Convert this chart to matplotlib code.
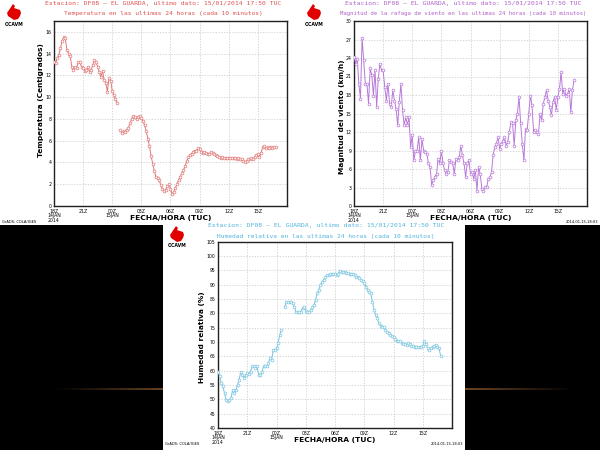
import numpy as np
import matplotlib
matplotlib.use('Agg')
import matplotlib.pyplot as plt
from matplotlib.patches import Rectangle, Polygon
from matplotlib.collections import LineCollection

nan = np.nan

# x axis: hours after 18Z 14 Jan 2014, one value every 10 minutes
hour_ticks = [0, 3, 6, 9, 12, 15, 18, 21]
hour_labels = ['18Z\n14JAN\n2014', '21Z', '00Z\n15JAN', '03Z', '06Z', '09Z', '12Z', '15Z']

temp = [13.2, 13.1, 13.6, 13.9, 14.5, 15.2, 15.5, 15.4, 14.3, 14.0,
        13.8, 12.8, 12.5, 12.8, 12.7, 13.2, 13.2, 12.8, 12.7, 12.4,
        12.5, 12.8, 12.3, 12.5, 13.0, 13.4, 13.2, 12.8, 12.3, 11.9,
        12.4, 11.6, 11.3, 10.5, 11.8, 11.5, 10.6, 10.2, 9.8, 9.5,
        nan, 7.0, 6.7, 6.9, 6.8, 7.0, 7.2, 7.6, 8.0, 8.3,
        8.2, 8.0, 8.2, 8.3, 8.1, 7.8, 7.4, 6.9, 6.2, 5.5,
        4.6, 3.9, 3.2, 2.7, 2.6, 2.4, 1.9, 1.6, 1.4, 1.5,
        1.8, 2.0, 1.6, 1.1, 1.3, 1.7, 2.0, 2.4, 2.7, 3.0,
        3.3, 3.7, 4.1, 4.5, 4.7, 4.8, 5.0, 5.1, 5.1, 5.3,
        5.2, 5.0, 4.9, 5.0, 4.9, 4.8, 4.8, 5.0, 4.9, 4.8,
        4.7, 4.6, 4.5, 4.4, 4.5, 4.4, 4.4, 4.4, 4.4, 4.4,
        4.4, 4.4, 4.4, 4.3, 4.4, 4.3, 4.3, 4.1, 4.0, 4.1,
        4.3, 4.3, 4.4, 4.3, 4.5, 4.7, 4.8, 4.5, 4.9, 5.4,
        5.5, 5.3, 5.4, 5.3, 5.4, 5.3, 5.4, 5.4]

wind = [24.2, 23.1, 23.9, 19.8, 17.4, 27.3, 23.6, 19.8, 19.8, 16.6,
        22.3, 21.2, 17.9, 22.0, 16.1, 20.6, 23.1, 22.0, 22.0, 19.3,
        17.1, 19.8, 16.6, 16.1, 18.8, 17.1, 15.8, 13.1, 16.9, 19.8,
        15.5, 13.1, 14.4, 13.1, 14.4, 9.6, 11.5, 7.4, 9.0, 9.0,
        11.2, 7.4, 10.9, 9.0, 8.8, 8.5, 6.9, 6.3, 3.4, 4.2,
        4.7, 5.2, 7.7, 6.9, 9.0, 6.9, 5.8, 5.2, 5.5, 7.4,
        7.1, 6.9, 5.2, 7.7, 7.4, 7.9, 9.8, 8.2, 6.9, 4.7,
        6.9, 7.4, 5.2, 5.5, 4.4, 5.8, 2.5, 6.3, 5.2, 2.8,
        2.5, 3.1, 3.1, 4.4, 4.7, 5.5, 8.2, 9.6, 10.1, 11.2,
        9.3, 10.1, 10.6, 11.2, 9.8, 10.4, 12.0, 13.6, 13.4, 9.8,
        13.9, 15.0, 17.7, 13.4, 10.1, 7.4, 12.5, 12.3, 15.0, 17.9,
        16.3, 12.0, 12.3, 12.0, 11.7, 15.0, 13.9, 16.6, 17.7, 18.8,
        17.1, 16.1, 14.7, 16.9, 17.7, 15.5, 17.7, 19.0, 21.7, 18.2,
        19.0, 17.9, 18.2, 19.0, 15.2, 18.8, 20.4]

humidity = [59.7, 58.0, 55.7, 54.5, 52.2, 49.9, 49.3, 49.8, 50.4, 53.3,
            52.2, 53.3, 55.1, 56.8, 59.7, 58.6, 57.4, 58.6, 59.1, 58.9,
            59.7, 61.5, 61.5, 60.9, 61.5, 58.6, 58.6, 59.4, 61.5, 61.5,
            61.5, 62.6, 64.4, 63.8, 67.3, 67.3, 67.8, 69.6, 72.5, 74.2,
            nan, 82.1, 84.1, 84.1, 84.1, 84.1, 83.5, 82.3, 80.3, 80.3,
            80.3, 80.6, 81.8, 82.1, 80.9, 80.3, 80.3, 81.2, 82.1, 82.9,
            84.7, 87.0, 88.1, 89.9, 91.0, 91.6, 92.8, 93.4, 93.4, 93.7,
            93.9, 93.9, 93.7, 93.4, 93.9, 94.9, 94.5, 94.3, 94.3, 94.2,
            94.0, 93.9, 93.9, 93.9, 93.4, 92.8, 92.6, 92.2, 91.6, 91.3,
            90.5, 89.3, 88.1, 87.6, 87.0, 84.1, 81.2, 79.4, 78.3, 76.5,
            75.6, 75.4, 75.2, 74.2, 73.6, 73.1, 72.5, 72.1, 71.9, 71.0,
            70.5, 70.2, 70.2, 69.8, 69.4, 69.4, 69.1, 69.8, 69.4, 68.7,
            68.7, 68.4, 68.4, 68.4, 68.4, 68.4, 68.7, 70.2, 69.4, 67.8,
            67.3, 67.8, 68.4, 68.7, 69.0, 68.4, 67.8, 65.2]

title1 = 'Estacion: DF08 \u2014 EL GUARDA, ultimo dato: 15/01/2014 17:50 TUC'

W, H = 600, 450
fig = plt.figure(figsize=(6, 4.5), dpi=100, facecolor='black')


def fx(px):
    return px / W


def fy(py):
    return 1 - py / H


def panel(x0, y0, x1, y1, z):
    fig.patches.append(Rectangle((fx(x0), fy(y1)), fx(x1 - x0), (y1 - y0) / H,
                                 transform=fig.transFigure, facecolor='white',
                                 edgecolor='none', zorder=z))


def logo(x0, y0):
    pts = [(6, 0), (8, 2), (7, 4), (10, 5), (13, 6), (14, 9), (13, 12), (11, 15),
           (7, 16), (4, 14), (1, 12), (0, 9), (2, 6), (4, 3)]
    poly = [(fx(x0 + px), fy(y0 + py)) for px, py in pts]
    fig.patches.append(Polygon(poly, closed=True, transform=fig.transFigure,
                               facecolor='#e00000', edgecolor='none', zorder=2))
    fig.text(fx(x0 + 7), fy(y0 + 20), 'OCAVM', fontsize=3.3, fontweight='bold',
             ha='center', va='center', color='black')


def chart(rect, values, color, ylim, yticks, title2, tcol, ylab, ylab_pos,
          px0, py0, t2size, footer_left=True, footer_right=True, pw=298):
    ax = fig.add_axes(rect)
    t = np.arange(len(values)) / 6.0
    ax.plot(t, values, '-o', color=color, lw=0.7, ms=2.0, mfc='white',
            mec=color, mew=0.5, zorder=3)
    ax.set_xlim(0, 24)
    ax.set_ylim(*ylim)
    ax.set_xticks(hour_ticks + [24])
    ax.set_xticklabels(hour_labels + [''], fontsize=3.3, linespacing=0.85)
    ax.set_yticks(yticks)
    ax.set_yticklabels([str(v) for v in yticks], fontsize=3.3)
    ax.tick_params(length=0, pad=2)
    ax.grid(True, color='#c8c8c8', lw=0.5, ls=(0, (2, 2)))
    for s in ax.spines.values():
        s.set_linewidth(1.0)
        s.set_color('#202020')
    # titles and labels in panel pixel coordinates
    fig.text(fx(px0 + 163), fy(py0 + 4), title1, fontsize=4.6, color=tcol,
             family='DejaVu Sans Mono', ha='center', va='center')
    fig.text(fx(px0 + 163), fy(py0 + 14), title2, fontsize=t2size, color=tcol,
             family='DejaVu Sans Mono', ha='center', va='center')
    fig.text(fx(ylab_pos[0]), fy(ylab_pos[1]), ylab, rotation=90, fontsize=5.3,
             fontweight='bold', family=['Liberation Sans Narrow', 'DejaVu Sans'],
             ha='center', va='center')
    cx = (rect[0] + rect[2] / 2)
    fig.text(cx, fy(py0 + 218), 'FECHA/HORA (TUC)', fontsize=5.4,
             fontweight='bold', ha='center', va='center')
    if footer_left:
        fig.text(fx(px0 + 2), fy(py0 + 222), 'GrADS: COLA/IGES', fontsize=2.6,
                 ha='left', va='center')
    if footer_right:
        fig.text(fx(px0 + pw - 2), fy(py0 + 222), '2014-01-15-18:03', fontsize=2.6,
                 ha='right', va='center')
    logo(px0 + 7, py0 + 4)
    return ax


panel(0, 0, 300, 225, -3)
panel(300, 0, 600, 225, -3)
panel(163, 220, 465, 450, -2)

chart([fx(54), fy(206), 233 / W, 185 / H], temp, '#e07878', (0, 17),
      list(range(0, 17, 2)),
      'Temperatura en las ultimas 24 horas (cada 10 minutos)', '#e05050',
      'Temperatura (Centigrados)', (41, 100), 0, 0, 4.5, footer_right=False)

chart([fx(354), fy(206), 233 / W, 185 / H], wind, '#b878d8', (0, 30),
      list(range(0, 31, 3)),
      'Magnitud de la rafaga de viento en las ultimas 24 horas (cada 10 minutos)',
      '#b060c8', 'Magnitud del viento (km/h)', (342, 117), 300, 0, 4.1,
      footer_left=False, pw=300)

chart([fx(218), fy(428), 234 / W, 186.3 / H], humidity, '#78c4e0', (40, 105),
      list(range(40, 106, 5)),
      'Humedad relativa en las ultimas 24 horas (cada 10 minutos)', '#50b4dc',
      'Humedad relativa (%)', (202, 337), 163, 222, 4.5, pw=302)

# faint orange light streaks on the dark background
for x0, x1, a0, a1 in [(55, 163, 0.0, 0.55), (465, 575, 0.6, 0.0)]:
    xs = np.linspace(fx(x0), fx(x1), 40)
    segs = [[(xs[i], fy(388.5)), (xs[i + 1], fy(388.5))] for i in range(39)]
    cols = [(0.78, 0.5, 0.25, a) for a in np.linspace(a0, a1, 39)]
    lc = LineCollection(segs, colors=cols, linewidths=1.3, capstyle='butt',
                        transform=fig.transFigure, zorder=-1)
    fig.add_artist(lc)

fig.savefig('out.png', dpi=100, facecolor='black')
